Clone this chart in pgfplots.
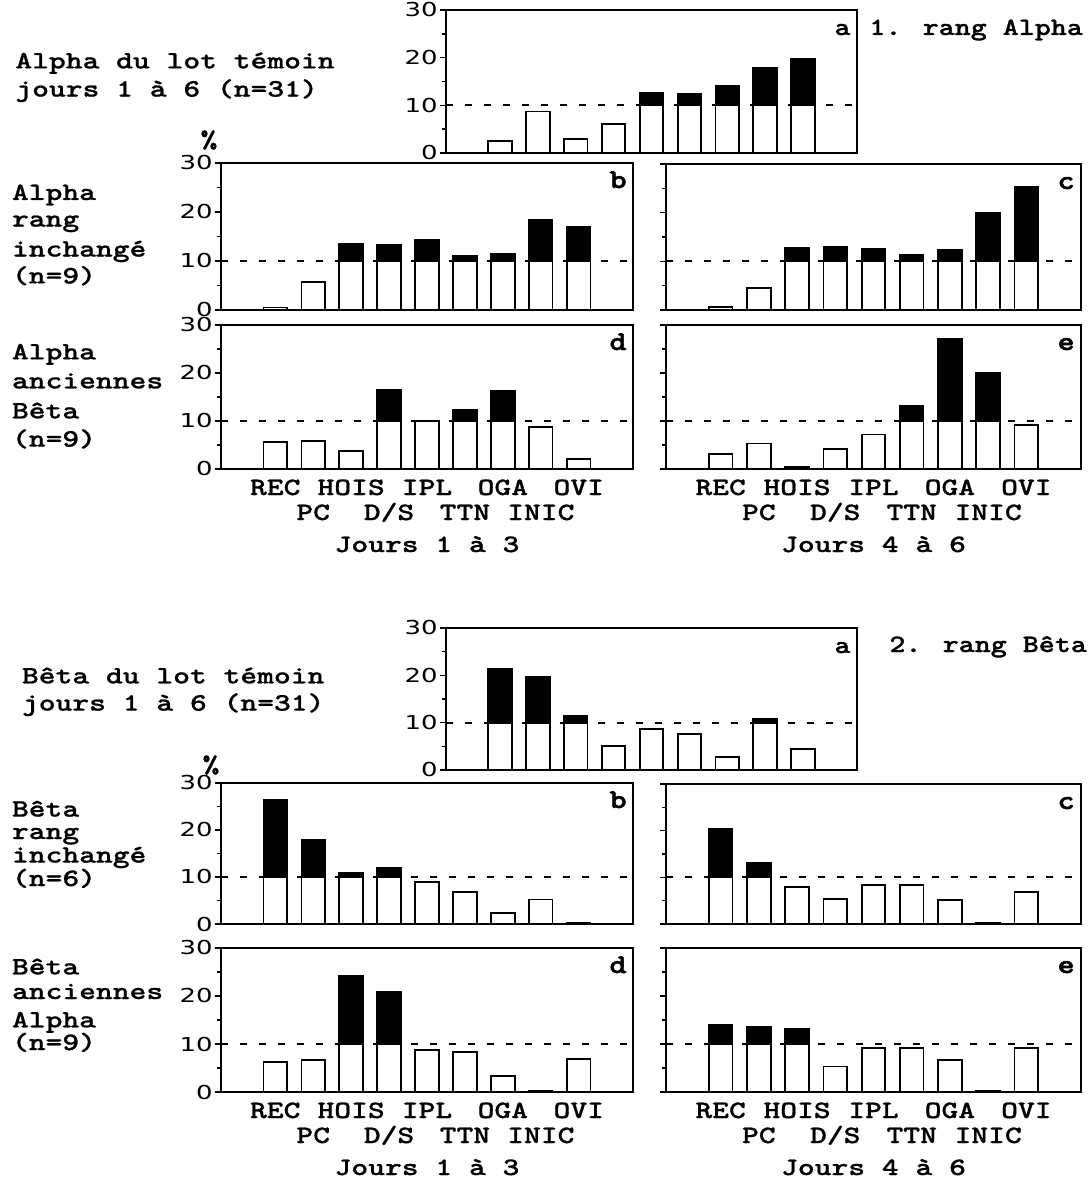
\documentclass[border=0pt]{standalone}
\usepackage{fontspec}
\usepackage{pgfplots}
\pgfplotsset{compat=1.18}
\newfontfamily\cour{lmmonolt10-bold.otf}[FakeStretch=1.28, FakeBold=0.8]
\newfontfamily\courh{lmmonolt10-bold.otf}[FakeStretch=1.22, FakeBold=1.0]
\newfontfamily\courl{lmmonolt10-bold.otf}[FakeStretch=1.2, FakeBold=2.0]
\newfontfamily\tickf{DejaVu Sans}[FakeStretch=1.35]
\newcommand\cf{\cour\fontsize{12.5}{14}\selectfont}
\newcommand\hf{\courh\fontsize{12.5}{14}\selectfont}
\newcommand\lf{\courl\fontsize{13.5}{14}\selectfont}

\pgfplotsset{
  panel/.style={
    scale only axis, anchor=south west,
    xmin=-0.43, xmax=10.43, ymin=0, ymax=30,
    xtick=\empty, minor xtick={1.5,2.5,...,8.5},
    ytick={0,10,20,30}, minor ytick={5,15,25},
    tick pos=left, tick align=outside,
    major tick length=3pt, minor tick length=2pt,
    axis line style={line width=0.9pt},
    tick style={line width=0.8pt, black},
    yticklabel style={font=\tickf\fontsize{9.6}{10}\selectfont, inner xsep=1pt, inner ysep=0pt},
    /pgf/number format/assume math mode=true,
    clip mode=individual,
  },
  nolab/.style={yticklabels={,,,}},
  dashline/.style={black, line width=0.9pt, dash pattern=on 3.5pt off 6pt, forget plot},
  blackbar/.style={ybar, bar width=0.62, bar shift=0pt, fill=black, draw=black, line width=0.9pt},
  whitebar/.style={ybar, bar width=0.62, bar shift=0pt, fill=white, draw=black, line width=0.9pt},
}
\tikzset{
  letter/.style={anchor=base east, inner sep=0pt, font=\lf, xshift=-3pt, yshift=-12.5pt},
  cat/.style={anchor=base, inner sep=0pt, font=\cf},
}

\newcommand\catlabels[1]{%
  \node[cat,yshift=-13pt] at (axis cs:1,0) {REC};
  \node[cat,yshift=-25.5pt] at (axis cs:2,0) {PC};
  \node[cat,yshift=-13pt] at (axis cs:3,0) {HOIS};
  \node[cat,yshift=-25.5pt] at (axis cs:4,0) {D/S};
  \node[cat,yshift=-13pt] at (axis cs:5,0) {IPL};
  \node[cat,yshift=-25.5pt] at (axis cs:6,0) {TTN};
  \node[cat,yshift=-13pt] at (axis cs:7,0) {OGA};
  \node[cat,yshift=-25.5pt] at (axis cs:8,0) {INIC};
  \node[cat,yshift=-13pt] at (axis cs:9,0) {OVI};
  \node[cat,yshift=-41.5pt] at (rel axis cs:0.5,0) {#1};
}

\begin{document}
\begin{tikzpicture}
\useasboundingbox (0,0) rectangle (544.5pt,-590.5pt);

% ---------------- 1. rang Alpha ----------------
\begin{axis}[panel, at={(223pt,-76.5pt)}, width=205.5pt, height=71.5pt]
\addplot[dashline] coordinates {(-0.43,10) (10.43,10)};
\addplot[blackbar] coordinates {(5,12.7) (6,12.4) (7,14.1) (8,17.8) (9,19.7)};
\addplot[whitebar] coordinates {(1,2.5) (2,8.7) (3,3.0) (4,6.0) (5,10) (6,10) (7,10) (8,10) (9,10)};
\node[letter, font=\hf] at (rel axis cs:1,1) {a};
\end{axis}

\begin{axis}[panel, at={(110.5pt,-155pt)}, width=206pt, height=73.5pt]
\addplot[dashline] coordinates {(-0.43,10) (10.43,10)};
\addplot[blackbar] coordinates {(3,13.4) (4,13.3) (5,14.3) (6,11.1) (7,11.4) (8,18.3) (9,17.0)};
\addplot[whitebar] coordinates {(1,0.5) (2,5.7) (3,10) (4,10) (5,10) (6,10) (7,10) (8,10) (9,10)};
\node[letter] at (rel axis cs:1,1) {b};
\end{axis}

\begin{axis}[panel, nolab, at={(333pt,-155pt)}, width=207.5pt, height=73pt]
\addplot[dashline] coordinates {(-0.43,10) (10.43,10)};
\addplot[blackbar] coordinates {(3,12.7) (4,12.9) (5,12.6) (6,11.4) (7,12.3) (8,19.9) (9,25.2)};
\addplot[whitebar] coordinates {(1,0.6) (2,4.5) (3,10) (4,10) (5,10) (6,10) (7,10) (8,10) (9,10)};
\node[letter] at (rel axis cs:1,1) {c};
\end{axis}

\begin{axis}[panel, at={(110.5pt,-234.5pt)}, width=206pt, height=72pt]
\addplot[dashline] coordinates {(-0.43,10) (10.43,10)};
\addplot[blackbar] coordinates {(4,16.5) (6,12.4) (7,16.3)};
\addplot[whitebar] coordinates {(1,5.7) (2,5.9) (3,3.8) (4,10) (5,10.0) (6,10) (7,10) (8,8.7) (9,2.1)};
\node[letter] at (rel axis cs:1,1) {d};
\catlabels{Jours 1 à 3}
\end{axis}

\begin{axis}[panel, nolab, at={(333pt,-234.5pt)}, width=207.5pt, height=72pt]
\addplot[dashline] coordinates {(-0.43,10) (10.43,10)};
\addplot[blackbar] coordinates {(6,13.1) (7,27.0) (8,20.1)};
\addplot[whitebar] coordinates {(1,3.2) (2,5.3) (3,0.4) (4,4.2) (5,7.2) (6,10) (7,10) (8,10) (9,9.1)};
\node[letter] at (rel axis cs:1,1) {e};
\catlabels{Jours 4 à 6}
\end{axis}

% ---------------- 2. rang Beta ----------------
\begin{axis}[panel, at={(223pt,-385pt)}, width=205.5pt, height=71pt]
\addplot[dashline] coordinates {(-0.43,10) (10.43,10)};
\addplot[blackbar] coordinates {(1,21.3) (2,19.7) (3,11.5) (8,10.7)};
\addplot[whitebar] coordinates {(1,10) (2,10) (3,10) (4,5.1) (5,8.7) (6,7.6) (7,2.7) (8,10) (9,4.4)};
\node[letter, font=\hf] at (rel axis cs:1,1) {a};
\end{axis}

\begin{axis}[panel, at={(110.5pt,-462pt)}, width=206pt, height=70.5pt]
\addplot[dashline] coordinates {(-0.43,10) (10.43,10)};
\addplot[blackbar] coordinates {(1,26.5) (2,17.9) (3,10.9) (4,11.9)};
\addplot[whitebar] coordinates {(1,10) (2,10) (3,10) (4,10) (5,8.9) (6,6.8) (7,2.3) (8,5.2) (9,0.2)};
\node[letter] at (rel axis cs:1,1) {b};
\end{axis}

\begin{axis}[panel, nolab, at={(333pt,-462pt)}, width=207.5pt, height=70pt]
\addplot[dashline] coordinates {(-0.43,10) (10.43,10)};
\addplot[blackbar] coordinates {(1,20.4) (2,13.1)};
\addplot[whitebar] coordinates {(1,10) (2,10) (3,7.9) (4,5.3) (5,8.4) (6,8.4) (7,5.1) (8,0.2) (9,6.8)};
\node[letter] at (rel axis cs:1,1) {c};
\end{axis}

\begin{axis}[panel, at={(110.5pt,-546pt)}, width=206pt, height=72pt]
\addplot[dashline] coordinates {(-0.43,10) (10.43,10)};
\addplot[blackbar] coordinates {(3,24.1) (4,20.8)};
\addplot[whitebar] coordinates {(1,6.3) (2,6.7) (3,10) (4,10) (5,8.8) (6,8.3) (7,3.3) (8,0.2) (9,6.8)};
\node[letter] at (rel axis cs:1,1) {d};
\catlabels{Jours 1 à 3}
\end{axis}

\begin{axis}[panel, nolab, at={(333pt,-546pt)}, width=207.5pt, height=72pt]
\addplot[dashline] coordinates {(-0.43,10) (10.43,10)};
\addplot[blackbar] coordinates {(1,13.9) (2,13.5) (3,13.2)};
\addplot[whitebar] coordinates {(1,10) (2,10) (3,10) (4,5.3) (5,9.2) (6,9.2) (7,6.7) (8,0.2) (9,9.1)};
\node[letter] at (rel axis cs:1,1) {e};
\catlabels{Jours 4 à 6}
\end{axis}

% ---------------- side texts ----------------
\begin{scope}[every node/.style={anchor=base west, inner sep=0pt, font=\cf}]
\node at (7.5pt,-34.2pt) {Alpha du lot témoin};
\node at (7.5pt,-48.3pt) {jours 1 à 6 (n=31)};
\node[font=\hf] at (434.5pt,-17.5pt) {1. rang Alpha};
\node at (5.8pt,-100pt) {Alpha};
\node at (5.8pt,-113.3pt) {rang};
\node at (5.8pt,-128.3pt) {inchangé};
\node at (5.8pt,-141.7pt) {(n=9)};
\node at (5.8pt,-179.7pt) {Alpha};
\node at (5.8pt,-194.2pt) {anciennes};
\node at (5.8pt,-209.2pt) {Bêta};
\node at (5.8pt,-223.3pt) {(n=9)};

\node at (10.8pt,-341.7pt) {Bêta du lot témoin};
\node at (10.8pt,-355.3pt) {jours 1 à 6 (n=31)};
\node[font=\hf] at (444.5pt,-326pt) {2. rang Bêta};
\node at (5.8pt,-408.3pt) {Bêta};
\node at (5.8pt,-419.5pt) {rang};
\node at (5.8pt,-431.3pt) {inchangé};
\node at (5.8pt,-443pt) {(n=6)};
\node at (5.8pt,-487.2pt) {Bêta};
\node at (5.8pt,-499.5pt) {anciennes};
\node at (5.8pt,-513.7pt) {Alpha};
\node at (5.8pt,-525pt) {(n=9)};
\end{scope}
\node[anchor=center, inner sep=0pt, font=\cf] at (104.5pt,-70pt) {\%};
\node[anchor=center, inner sep=0pt, font=\cf] at (105.5pt,-382.5pt) {\%};
\end{tikzpicture}
\end{document}
